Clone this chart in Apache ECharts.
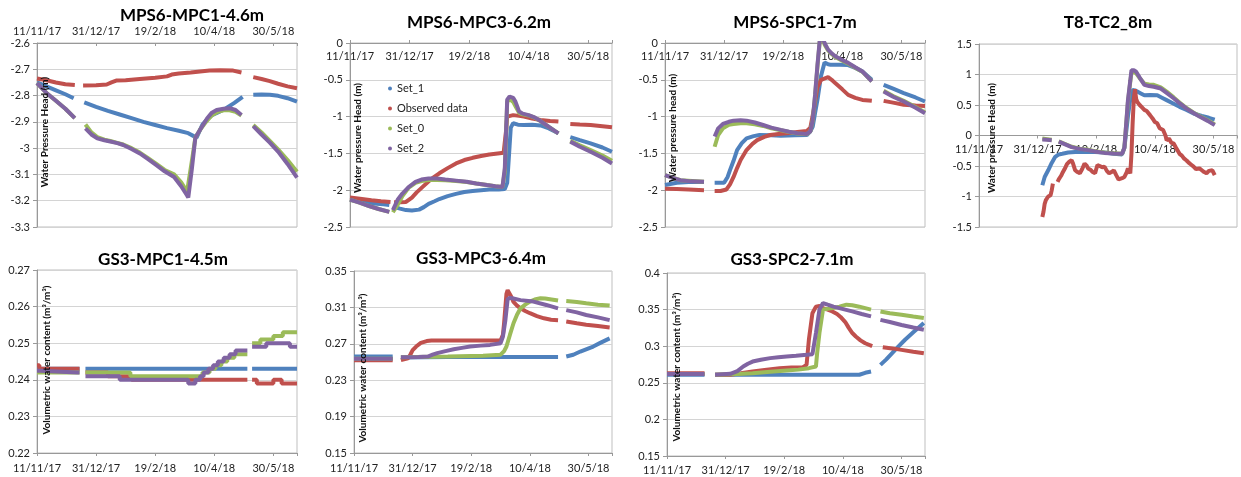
<!DOCTYPE html>
<html><head><meta charset="utf-8">
<script src="https://cdn.jsdelivr.net/npm/echarts@6/dist/echarts.min.js"></script>
<style>html,body{margin:0;padding:0;background:#fff}#c{width:1241px;height:477px}</style>
</head><body><div id="c"></div>
<script>
// ---------- labels ----------
const xTickLabels = ['11/11/17','31/12/17','19/2/18','10/4/18','30/5/18']; // every 50 days from 11/11/17
const seriesNames = ['Set_1','Observed data','Set_0','Set_2'];
const panelTitles = ['MPS6-MPC1-4.6m','MPS6-MPC3-6.2m','MPS6-SPC1-7m','T8-TC2_8m','GS3-MPC1-4.5m','GS3-MPC3-6.4m','GS3-SPC2-7.1m'];
const yAxisTitles = ['Water Pressure Head (m)','Water pressure Head (m)','Water pressure head (m)','Water pressure Head (m)',
  'Volumetric water content (m\u00b3/m\u00b3)','Volumetric water content (m\u00b3/m\u00b3)','Volumetric water content (m\u00b3/m\u00b3)'];
const yMins  = [-3.3, -2.5, -2.5, -1.5, 0.22, 0.15, 0.15];
const yMaxs  = [-2.6, 0, 0, 1.5, 0.27, 0.35, 0.4];
const ySteps = [0.1, 0.5, 0.5, 0.5, 0.01, 0.04, 0.05];

// ---------- data: [day since 11/11/17, value]; null value = gap ----------
// MPS6-MPC1-4.6m
const p1Set1 = [[0,-2.75],[8,-2.765],[16,-2.78],[24,-2.795],[31,-2.81],[35,null],[40,-2.826],[50,-2.843],[60,-2.858],[70,-2.872],[80,-2.886],[90,-2.9],[100,-2.912],[110,-2.924],[120,-2.934],[128,-2.943],[135,-2.96],[137,-2.94],[140,-2.91],[144,-2.89],[148,-2.875],[154,-2.862],[160,-2.848],[167,-2.828],[174,-2.805],[178,null],[183,-2.797],[190,-2.796],[197,-2.797],[204,-2.801],[212,-2.81],[220,-2.823]];
const p1Obs = [[0,-2.735],[8,-2.742],[16,-2.75],[24,-2.757],[32,-2.76],[35,null],[39,-2.762],[50,-2.761],[59,-2.758],[63,-2.75],[67,-2.743],[75,-2.742],[87,-2.737],[100,-2.732],[110,-2.727],[114,-2.72],[120,-2.716],[130,-2.712],[138,-2.708],[146,-2.705],[155,-2.704],[166,-2.705],[173,-2.712],[178,null],[183,-2.73],[190,-2.737],[197,-2.745],[204,-2.755],[212,-2.765],[220,-2.772]];
const p1Set0 = [[0,-2.753],[8,-2.79],[16,-2.82],[24,-2.85],[32,-2.886],[36,null],[41,-2.91],[46,-2.94],[51,-2.958],[57,-2.968],[62,-2.973],[68,-2.98],[73,-2.986],[80,-3.0],[87,-3.017],[94,-3.038],[101,-3.06],[108,-3.083],[116,-3.1],[122,-3.13],[127,-3.165],[128,-3.172],[131,-3.05],[134,-2.96],[138,-2.93],[143,-2.9],[148,-2.875],[153,-2.862],[158,-2.856],[163,-2.856],[168,-2.862],[173,-2.876],[178,null],[183,-2.912],[190,-2.94],[197,-2.972],[204,-3.005],[212,-3.045],[220,-3.09]];
const p1Set2 = [[0,-2.753],[8,-2.79],[16,-2.82],[24,-2.85],[32,-2.886],[36,null],[41,-2.925],[46,-2.948],[51,-2.963],[57,-2.97],[62,-2.975],[68,-2.981],[73,-2.988],[80,-3.003],[87,-3.02],[94,-3.042],[101,-3.065],[108,-3.088],[116,-3.11],[122,-3.145],[127,-3.18],[128,-3.188],[131,-3.08],[134,-2.96],[138,-2.93],[144,-2.886],[148,-2.865],[152,-2.855],[158,-2.85],[163,-2.848],[168,-2.855],[173,-2.874],[178,null],[183,-2.916],[190,-2.948],[197,-2.979],[204,-3.013],[212,-3.06],[220,-3.112]];
// MPS6-MPC3-6.2m
const p2Set1 = [[0,-2.13],[10,-2.16],[20,-2.18],[28,-2.19],[33,-2.2],[35,null],[37,-2.227],[42,-2.25],[47,-2.27],[52,-2.275],[58,-2.264],[62,-2.23],[66,-2.185],[71,-2.15],[75,-2.12],[82,-2.08],[89,-2.05],[96,-2.025],[103,-2.01],[110,-2.0],[117,-1.99],[125,-1.99],[130,-1.985],[132,-1.9],[134,-1.4],[135,-1.15],[137,-1.09],[141,-1.11],[146,-1.114],[153,-1.11],[160,-1.12],[167,-1.16],[175,-1.227],[180,null],[185,-1.28],[193,-1.32],[202,-1.364],[212,-1.42],[220,-1.477]];
const p2Obs = [[0,-2.1],[10,-2.12],[18,-2.136],[26,-2.15],[34,-2.16],[35.5,null],[37,-2.164],[42,-2.165],[47,-2.16],[52,-2.1],[56,-2.03],[61,-1.955],[68,-1.85],[75,-1.77],[82,-1.7],[89,-1.636],[96,-1.59],[103,-1.56],[110,-1.535],[117,-1.515],[124,-1.5],[129,-1.49],[131,-1.2],[132,-1.0],[137,-0.98],[142,-0.99],[146,-1.0],[153,-1.025],[160,-1.045],[168,-1.06],[175,-1.068],[180,null],[185,-1.1],[193,-1.107],[202,-1.114],[212,-1.13],[220,-1.145]];
const p2Set0 = [[0,-2.127],[8,-2.17],[16,-2.215],[24,-2.255],[33,-2.295],[34.5,null],[36,-2.3],[40,-2.2],[44,-2.08],[49,-1.97],[55,-1.9],[60,-1.875],[66,-1.862],[73,-1.86],[80,-1.865],[89,-1.875],[98,-1.89],[106,-1.91],[115,-1.93],[122,-1.945],[128,-1.955],[130,-1.75],[132,-0.8],[134,-0.76],[137,-0.8],[139,-0.86],[142,-0.95],[145,-0.97],[150,-0.985],[155,-1.015],[160,-1.06],[167,-1.14],[175,-1.227],[180,null],[185,-1.33],[193,-1.39],[202,-1.455],[212,-1.53],[220,-1.6]];
const p2Set2 = [[0,-2.127],[8,-2.17],[16,-2.215],[24,-2.255],[33,-2.295],[34.5,null],[36,-2.27],[40,-2.13],[44,-2.045],[49,-1.96],[55,-1.886],[60,-1.855],[66,-1.84],[73,-1.842],[80,-1.855],[89,-1.87],[98,-1.886],[106,-1.91],[115,-1.93],[122,-1.945],[128,-1.955],[130,-1.7],[132,-0.77],[134,-0.727],[137,-0.745],[139,-0.8],[142,-0.93],[145,-0.96],[150,-0.98],[155,-1.01],[160,-1.06],[167,-1.14],[175,-1.227],[180,null],[185,-1.34],[193,-1.41],[202,-1.477],[212,-1.56],[220,-1.636]];
// MPS6-SPC1-7m
const p3Set1 = [[0,-1.93],[10,-1.9],[20,-1.89],[33,-1.89],[37,null],[42,-1.9],[50,-1.9],[53,-1.82],[55,-1.727],[58,-1.6],[61,-1.455],[65,-1.36],[69,-1.295],[75,-1.265],[80,-1.25],[90,-1.255],[98,-1.26],[110,-1.255],[120,-1.25],[123,-1.2],[125,-1.136],[127,-0.95],[129,-0.77],[132,-0.45],[135,-0.264],[138,-0.29],[140,-0.295],[148,-0.295],[155,-0.3],[161,-0.34],[167,-0.386],[175,-0.5],[180,null],[185,-0.568],[193,-0.62],[202,-0.68],[212,-0.74],[220,-0.795]];
const p3Obs = [[0,-1.98],[10,-1.985],[20,-1.99],[33,-2.0],[37,null],[42,-2.01],[47,-2.01],[52,-1.99],[55,-1.92],[58,-1.82],[61,-1.7],[64,-1.59],[69,-1.455],[74,-1.37],[78,-1.32],[84,-1.275],[89,-1.25],[96,-1.235],[103,-1.227],[112,-1.21],[120,-1.195],[123,-1.15],[126,-0.9],[129,-0.6],[132,-0.5],[138,-0.464],[141,-0.5],[144,-0.545],[150,-0.63],[155,-0.705],[161,-0.745],[167,-0.773],[175,-0.786],[180,null],[185,-0.786],[193,-0.81],[202,-0.84],[212,-0.85],[220,-0.855]];
const p3Set0 = [[0,-1.795],[13,-1.864],[33,-1.886],[37,null],[42,-1.41],[45,-1.25],[49,-1.16],[54,-1.11],[58,-1.1],[64,-1.09],[69,-1.09],[76,-1.105],[83,-1.127],[90,-1.16],[98,-1.185],[105,-1.21],[112,-1.23],[120,-1.24],[123,-1.2],[125,-1.05],[127,-0.72],[129,-0.32],[131,0.03],[133,0.08],[135,-0.02],[138,-0.1],[141,-0.15],[144,-0.19],[150,-0.24],[155,-0.28],[161,-0.335],[167,-0.39],[175,-0.52],[180,null],[185,-0.65],[193,-0.72],[202,-0.785],[212,-0.87],[220,-0.945]];
const p3Set2 = [[0,-1.795],[6,-1.83],[13,-1.864],[22,-1.88],[33,-1.886],[37,null],[42,-1.27],[45,-1.16],[49,-1.1],[54,-1.07],[58,-1.055],[64,-1.05],[69,-1.055],[76,-1.08],[83,-1.114],[90,-1.15],[98,-1.18],[105,-1.205],[112,-1.227],[120,-1.236],[123,-1.2],[125,-1.045],[127,-0.7],[129,-0.3],[131,0.05],[133,0.1],[135,0.0],[138,-0.09],[141,-0.14],[144,-0.18],[150,-0.23],[155,-0.27],[161,-0.33],[167,-0.386],[175,-0.523],[180,null],[185,-0.66],[193,-0.73],[202,-0.795],[212,-0.88],[220,-0.955]];
// T8-TC2_8m
const p4Set1 = [[54,-0.815],[56,-0.68],[59,-0.57],[62,-0.45],[65,-0.35],[68,-0.31],[71,-0.3],[76,-0.28],[82,-0.27],[90,-0.265],[99,-0.27],[107,-0.28],[115,-0.3],[122,-0.31],[124,-0.2],[127,0.31],[129,0.6],[131,0.745],[133,0.74],[135,0.72],[138,0.69],[141,0.66],[146,0.665],[152,0.66],[156,0.62],[160,0.58],[166,0.52],[171,0.47],[177,0.42],[183,0.36],[190,0.32],[196,0.29],[201,0.26]];
const p4Obs = [[54,-1.335],[55,-1.25],[56,-1.12],[57,-1.06],[59,-1.0],[61,-0.98],[62,-0.9],[63,-0.79],[65,null],[67,-0.76],[68,-0.72],[70,-0.66],[71,-0.62],[73,-0.55],[75,-0.47],[77,-0.43],[79,-0.405],[80,-0.45],[82,-0.57],[84,-0.6],[86,-0.62],[88,-0.55],[90,-0.46],[92,-0.5],[93,-0.54],[95,-0.56],[97,-0.6],[99,-0.62],[100,-0.55],[101,-0.485],[103,-0.5],[105,-0.52],[107,-0.51],[109,-0.58],[111,-0.62],[113,-0.6],[115,-0.57],[117,-0.65],[119,-0.72],[120,-0.73],[122,-0.7],[124,-0.68],[126,-0.6],[127,-0.54],[128,-0.58],[129,-0.62],[130,-0.3],[131,0.2],[132,0.6],[133,0.76],[134,0.6],[135,0.55],[137,0.5],[139,0.46],[141,0.42],[143,0.4],[146,0.33],[148,0.28],[150,0.22],[152,0.2],[154,0.12],[157,0.09],[159,0.0],[160,-0.08],[162,-0.05],[164,-0.12],[166,-0.13],[168,-0.2],[171,-0.3],[173,-0.33],[175,-0.38],[177,-0.41],[179,-0.45],[181,-0.48],[183,-0.51],[185,-0.55],[188,-0.54],[190,-0.57],[192,-0.6],[194,-0.62],[196,-0.58],[199,-0.57],[201,-0.65]];
const p4Set0 = [[54,-0.05],[58,-0.06],[62,-0.07],[64,null],[68,-0.095],[73,-0.135],[79,-0.185],[86,-0.215],[93,-0.235],[100,-0.26],[107,-0.28],[115,-0.29],[122,-0.3],[124,-0.2],[127,0.55],[129,0.88],[130,1.03],[132,1.04],[134,1.02],[137,0.94],[141,0.85],[145,0.835],[149,0.83],[155,0.79],[160,0.72],[166,0.625],[171,0.54],[177,0.45],[183,0.375],[188,0.32],[195,0.25],[201,0.18]];
const p4Set2 = [[54,-0.065],[58,-0.07],[62,-0.077],[64,null],[68,-0.1],[73,-0.14],[79,-0.19],[86,-0.22],[93,-0.24],[100,-0.265],[107,-0.285],[115,-0.295],[122,-0.3],[124,-0.2],[127,0.58],[129,0.9],[130,1.07],[132,1.07],[134,1.045],[137,0.95],[141,0.83],[145,0.81],[149,0.8],[155,0.77],[160,0.7],[166,0.61],[171,0.53],[177,0.44],[183,0.37],[188,0.31],[195,0.24],[201,0.17]];
// GS3-MPC1-4.5m (stepped readings)
const p5Set1 = [[0,0.243],[34,0.243],[36,null],[41,0.243],[174,0.243],[178,null],[182,0.243],[220,0.243]];
const p5Obs = [[0,0.244],[2,0.243],[34,0.243],[36,null],[41,0.242],[60,0.241],[80,0.240],[174,0.240],[178,null],[182,0.240],[186,0.239],[200,0.240],[207,0.239],[220,0.239]];
const p5Set0 = [[0,0.242],[34,0.242],[36,null],[41,0.242],[79,0.241],[140,0.242],[146,0.243],[151,0.244],[156,0.245],[161,0.246],[167,0.247],[174,0.247],[178,null],[182,0.250],[189,0.251],[200,0.252],[208,0.253],[220,0.253]];
const p5Set2 = [[0,0.2425],[3,0.242],[34,0.242],[36,null],[41,0.241],[70,0.240],[128,0.239],[134,0.240],[138,0.241],[141,0.242],[145,0.243],[149,0.244],[153,0.245],[158,0.246],[163,0.247],[168,0.248],[174,0.248],[178,null],[182,0.249],[194,0.250],[214,0.249],[220,0.249]];
// GS3-MPC3-6.4m
const p6Set1 = [[0,0.256],[33,0.256],[37,null],[40,0.255],[80,0.2555],[120,0.2555],[174,0.2555],[178,null],[181,0.256],[187,0.258],[193,0.2615],[199,0.2645],[204,0.267],[210,0.271],[218,0.276]];
const p6Obs = [[0,0.252],[33,0.252],[37,null],[40,0.252],[46,0.254],[48,0.258],[50,0.263],[53,0.267],[57,0.271],[62,0.273],[66,0.2736],[85,0.2736],[110,0.2736],[125,0.2736],[127,0.28],[128,0.293],[130,0.325],[131,0.329],[132,0.328],[134,0.322],[136,0.316],[139,0.312],[142,0.309],[146,0.306],[150,0.3036],[156,0.3005],[162,0.298],[168,0.2965],[174,0.296],[178,null],[181,0.2944],[190,0.2925],[198,0.291],[208,0.2895],[218,0.288]];
const p6Set0 = [[0,0.2535],[33,0.2535],[37,null],[40,0.2553],[80,0.256],[110,0.257],[125,0.258],[128,0.262],[130,0.267],[133,0.28],[136,0.2926],[139,0.302],[142,0.309],[146,0.313],[150,0.3164],[155,0.319],[159,0.32],[163,0.3198],[167,0.319],[174,0.3175],[178,null],[181,0.317],[190,0.316],[198,0.3145],[208,0.313],[218,0.312]];
const p6Set2 = [[0,0.2535],[33,0.2535],[37,null],[40,0.2553],[55,0.2555],[63,0.256],[67,0.258],[71,0.2597],[78,0.262],[85,0.264],[92,0.2655],[99,0.267],[108,0.268],[116,0.2688],[125,0.2707],[127,0.278],[129,0.295],[131,0.319],[133,0.3205],[135,0.32],[142,0.318],[153,0.3164],[164,0.3127],[174,0.309],[178,null],[181,0.307],[190,0.3045],[198,0.3017],[208,0.299],[218,0.296]];
// GS3-SPC2-7.1m
const p7Set1 = [[0,0.261],[32,0.261],[37,null],[41,0.261],[100,0.261],[150,0.261],[164,0.261],[169,0.2637],[174,0.2654],[178,null],[182,0.2745],[187,0.282],[192,0.2905],[197,0.299],[203,0.3088],[210,0.319],[219,0.3316]];
const p7Obs = [[0,0.263],[32,0.263],[37,null],[41,0.261],[54,0.261],[63,0.263],[73,0.2654],[85,0.268],[96,0.27],[106,0.271],[116,0.2714],[119,0.2745],[121,0.309],[124,0.345],[127,0.354],[130,0.355],[133,0.352],[137,0.35],[141,0.3475],[145,0.344],[148,0.34],[152,0.333],[155,0.325],[158,0.318],[161,0.3133],[165,0.308],[169,0.304],[175,0.3],[179,null],[184,0.2987],[192,0.297],[200,0.295],[210,0.2925],[219,0.2905]];
const p7Set0 = [[0,0.262],[32,0.262],[37,null],[41,0.261],[60,0.262],[73,0.263],[88,0.265],[102,0.2668],[112,0.268],[121,0.27],[127,0.2723],[128,0.29],[130,0.318],[133,0.35],[137,0.351],[141,0.352],[147,0.354],[153,0.3567],[158,0.356],[164,0.354],[169,0.352],[174,0.35],[178,null],[182,0.3475],[190,0.345],[200,0.343],[210,0.3405],[219,0.3384]];
const p7Set2 = [[0,0.262],[32,0.262],[37,null],[41,0.261],[54,0.2622],[60,0.266],[65,0.2723],[69,0.276],[73,0.279],[80,0.2815],[88,0.2837],[95,0.285],[102,0.286],[110,0.287],[119,0.2882],[124,0.289],[127,0.318],[130,0.35],[133,0.359],[137,0.3567],[142,0.354],[147,0.352],[152,0.35],[158,0.3475],[166,0.344],[174,0.3407],[178,null],[182,0.336],[190,0.333],[200,0.329],[210,0.3255],[219,0.3224]];

const panelData = [
  [p1Set1,p1Obs,p1Set0,p1Set2],[p2Set1,p2Obs,p2Set0,p2Set2],[p3Set1,p3Obs,p3Set0,p3Set2],[p4Set1,p4Obs,p4Set0,p4Set2],
  [p5Set1,p5Obs,p5Set0,p5Set2],[p6Set1,p6Obs,p6Set0,p6Set2],[p7Set1,p7Obs,p7Set0,p7Set2]
];

// ---------- layout & style ----------
const colors = ['#4F81BD','#C0504D','#9BBB59','#8064A2'];
const FONT = 'Lato, "Liberation Sans", sans-serif';
const gridBoxes = [
  {left:37, top:43, width:260, height:184},
  {left:350, top:43, width:262, height:184},
  {left:665, top:43, width:260, height:184},
  {left:979, top:44, width:258, height:183},
  {left:37, top:270, width:260, height:183},
  {left:354, top:271, width:258, height:182},
  {left:667, top:273, width:258, height:183}
];
const titlePos = [[192,16],[479,23],[795,23],[1108,23],[163,260],[481,259],[792,260]];
const yTitlePos = [[45,132],[358,138],[673,128],[992,138],[47,360],[363,368],[677,367]];
const xLabelMargin = [6,8,8,8,10,10,9];

// the horizontal axis crosses the vertical one at 0 whenever 0 is in range (as in the source charts)
function crossing(i) {
  if (yMins[i] < 0 && yMaxs[i] >= 0) return yMaxs[i] === 0 ? 'top0' : 'mid';
  return i < 4 ? 'top' : 'bottom';
}
const grids = gridBoxes.map(b => Object.assign({show:true, borderColor:'#bfbfbf', borderWidth:1, backgroundColor:'#fff', containLabel:false, outerBoundsMode:'none'}, b));
const xAxes = gridBoxes.map((b,i) => {
  const c = crossing(i);
  const ax = {
    type:'value', gridIndex:i, min:0, max:220, interval:50,
    position: (c === 'top' || c === 'top0') ? 'top' : 'bottom',
    offset: 0,
    axisLine:{show:true, onZero:false, lineStyle:{color:'#999', width:1}},
    axisTick:{show:true, length:3, inside: c === 'top', lineStyle:{color:'#999'}},
    splitLine:{show:false},
    axisLabel:{color:'#222', fontSize:11, fontFamily:FONT, margin:xLabelMargin[i], inside: c === 'top0',
      formatter: v => (v % 50 === 0 && xTickLabels[v/50] !== undefined) ? xTickLabels[v/50] : ''}
  };
  if (c === 'mid') ax.offset = -b.height * (0 - yMins[i]) / (yMaxs[i] - yMins[i]);
  return ax;
});
const yAxes = gridBoxes.map((b,i) => ({
  type:'value', gridIndex:i, min:yMins[i], max:yMaxs[i], interval:ySteps[i],
  axisLine:{show:true, onZero:false, lineStyle:{color:'#999', width:1}},
  axisTick:{show:true, length:4, lineStyle:{color:'#999'}},
  splitLine:{show:true, lineStyle:{color:'#d4d4d4', width:1}},
  axisLabel:{color:'#222', fontSize:11, fontFamily:FONT, margin:7}
}));
const series = [];
panelData.forEach((sets, i) => {
  sets.forEach((d, k) => {
    series.push({
      type:'line', name:seriesNames[k], xAxisIndex:i, yAxisIndex:i, data:d,
      showSymbol:false, symbol:'circle', symbolSize:4, connectNulls:false, clip:true,
      step: i===4 ? 'end' : false,
      lineStyle:{color:colors[k], width:4}, itemStyle:{color:colors[k]},
      emphasis:{disabled:true}, animation:false, z:2+k
    });
  });
});
const graphics = [];
panelTitles.forEach((t,i) => graphics.push({type:'text', x:titlePos[i][0], y:titlePos[i][1], z:100,
  style:{text:t, fill:'#000', fontSize:17, fontWeight:'bold', fontFamily:FONT, align:'center', verticalAlign:'middle'}}));
yAxisTitles.forEach((t,i) => graphics.push({type:'text', x:yTitlePos[i][0], y:yTitlePos[i][1], rotation:Math.PI/2, z:100,
  style:{text:t, fill:'#111', fontSize:10, fontWeight:'bold', fontFamily:FONT, align:'center', verticalAlign:'middle'}}));

const chart = echarts.init(document.getElementById('c'), null, {renderer:'canvas'});
chart.setOption({
  animation:false,
  backgroundColor:'#fff',
  grid:grids, xAxis:xAxes, yAxis:yAxes, series:series,
  legend:{data:seriesNames, orient:'vertical', left:388, top:83, padding:0, itemGap:9, itemWidth:4, itemHeight:4, icon:'circle',
    textStyle:{color:'#222', fontSize:11, fontFamily:FONT}, selectedMode:false, z:50},
  graphic:graphics
});
</script></body></html>
